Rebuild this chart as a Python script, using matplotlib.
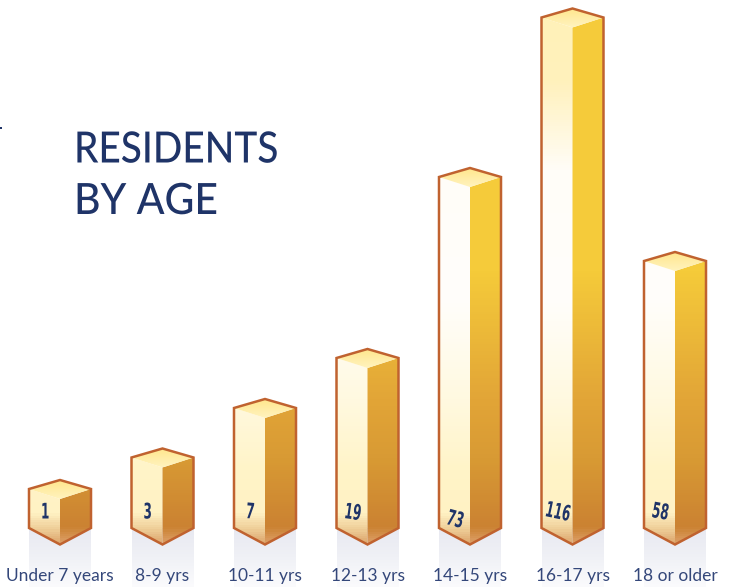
#!/usr/bin/env python
"""Residents by age: pseudo-3D column graphic."""

import matplotlib
matplotlib.use("Agg")
import matplotlib.pyplot as plt
import numpy as np
from matplotlib.colors import LinearSegmentedColormap
from matplotlib.patches import Polygon, Rectangle
from matplotlib.patheffects import AbstractPathEffect
from matplotlib.transforms import Affine2D

categories = ["Under 7 years", "8-9 yrs", "10-11 yrs", "12-13 yrs",
              "14-15 yrs", "16-17 yrs", "18 or older"]
residents = [1, 3, 7, 19, 73, 116, 58]
# the columns are not drawn to scale, so their heights are read separately
column_heights = [39, 70.5, 120, 170, 351, 510.5, 267]
label_heights = [15.5, 15.5, 16, 16, 10, 18, 17]
label_offsets = [-19, -19, -19, -23, -23, -27, -23]
label_angles = [0, 0, -5, -8, -15, -12, -10]

NAVY = "#1F3468"
EDGE = "#C0622F"
W, H = 731, 587
BASE_PX = 528
X0_PX, STEP_PX = 60, 102.5
HALF = 31 / STEP_PX


class Squeeze(AbstractPathEffect):
    """Narrow the glyphs, no condensed font is installed."""

    def __init__(self, factor):
        super().__init__()
        self.factor = factor

    def draw_path(self, renderer, gc, tpath, affine, rgbFace=None):
        renderer.draw_path(gc, tpath, Affine2D().scale(self.factor, 1) + affine, rgbFace)


def ramp(stops):
    # stops are (pixel row in the figure, colour)
    return LinearSegmentedColormap.from_list("r", [(y / H, c) for y, c in stops])


front_cmap = ramp([(0, "#FFF1B8"), (80, "#FFF1BC"), (170, "#FFFDF8"), (300, "#FFFEFB"),
                   (400, "#FFF9E0"), (470, "#FFF4C8"), (514, "#FFF2C4"), (530, "#EFCE98"),
                   (545, "#DCA56C"), (587, "#DCA56C")])
side_cmap = ramp([(0, "#F5CB3A"), (270, "#F5CB3A"), (400, "#E2A537"), (460, "#D89A34"),
                  (528, "#CB8232"), (545, "#DDA068"), (587, "#DDA068")])
cap_cmap = LinearSegmentedColormap.from_list("cap", ["#FFE68C", "#FFF3BE"])
shadow_cmap = LinearSegmentedColormap.from_list("shadow", ["#E8E9F1", "#F0F1F6", "#FBFBFD"])

fig = plt.figure(figsize=(W / 100, H / 100), dpi=100)
ax = fig.add_axes([0, 0, 1, 1])
xlim = (-X0_PX / STEP_PX, (W - X0_PX) / STEP_PX)
ylim = (BASE_PX - H, BASE_PX)
grad = np.linspace(0, 1, 587).reshape(-1, 1)


def fill(points, cmap, extent=None, zorder=2):
    poly = Polygon(points, closed=True, transform=ax.transData, fc="none", ec="none")
    ax.add_patch(poly)
    im = ax.imshow(grad, cmap=cmap, vmin=0, vmax=1, aspect="auto",
                   extent=extent or (*xlim, ylim[0], ylim[1]), zorder=zorder)
    im.set_clip_path(poly)


for i, (height, count) in enumerate(zip(column_heights, residents)):
    left, right = i - HALF, i + HALF

    # pale reflection under the column
    fill([(left, ylim[0]), (left, 0), (right, 0), (right, ylim[0])], shadow_cmap,
         extent=(left, right, ylim[0], 0), zorder=1)

    # faces
    fill([(left, height), (i, height - 10), (i, -16.5), (left, 0)], front_cmap)
    fill([(right, height), (i, height - 10), (i, -16.5), (right, 0)], side_cmap)
    fill([(left, height), (i, height + 9), (right, height), (i, height - 10)], cap_cmap,
         extent=(left, right, height - 10, height + 9))

    outline = [(left, 0), (left, height), (i, height + 9), (right, height),
               (right, 0), (i, -16.5)]
    ax.add_patch(Polygon(outline, closed=True, fc="none", ec=EDGE, lw=1.8,
                         joinstyle="miter", zorder=3))

    ax.text(i + label_offsets[i] / STEP_PX, label_heights[i], str(count),
            rotation=label_angles[i], rotation_mode="anchor", ha="left", va="center",
            fontsize=15.5, fontweight="bold", color=NAVY, family="DejaVu Sans", zorder=4,
            path_effects=[Squeeze(0.56)])

ax.set_xlim(*xlim)
ax.set_ylim(*ylim)
ax.set_frame_on(False)
ax.set_axisbelow(False)
ax.set_yticks([])
ax.set_xticks(range(len(categories)), categories, fontsize=12.5, color="#34477A",
              family=["Lato", "DejaVu Sans"])
ax.tick_params(axis="x", length=0, pad=-14)
for tick_label in ax.get_xticklabels():
    tick_label.set_zorder(5)

for title_line, title_y, squeeze in zip(["RESIDENTS", "BY AGE"], [150.5, 202], [0.9, 0.95]):
    ax.text(74 / W, 1 - title_y / H, title_line, transform=ax.transAxes, fontsize=31,
            color=NAVY, family=["Lato", "DejaVu Sans"], va="center", ha="left",
            fontweight="medium", path_effects=[Squeeze(squeeze)], zorder=5)

# cropped mark at the left edge of the page
fig.add_artist(Rectangle((0, 1 - 129 / H), 2 / W, 2 / H, transform=fig.transFigure,
                         fc=NAVY, ec="none"))

fig.savefig("out.png", dpi=100)
